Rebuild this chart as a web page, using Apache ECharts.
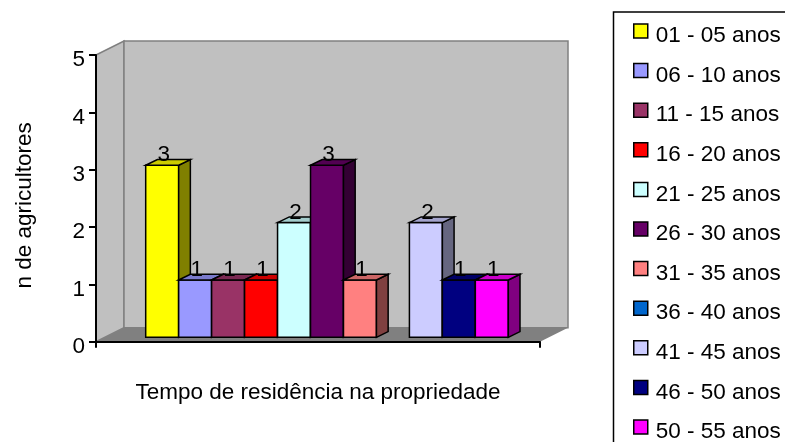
<!DOCTYPE html>
<html>
<head>
<meta charset="utf-8">
<script src="https://cdn.jsdelivr.net/npm/echarts@6/dist/echarts.min.js"></script>
<style>
  html, body { margin: 0; padding: 0; background: #ffffff; }
  #chart { width: 785px; height: 442px; }
</style>
</head>
<body>
<div id="chart"></div>
<script>
// Residence time classes (one bar each) and number of farmers per class
const categories = [''];
const seriesNames = [
  '01 - 05 anos', '06 - 10 anos', '11 - 15 anos', '16 - 20 anos',
  '21 - 25 anos', '26 - 30 anos', '31 - 35 anos', '36 - 40 anos',
  '41 - 45 anos', '46 - 50 anos', '50 - 55 anos'
];
const seriesValues = [3, 1, 1, 1, 2, 3, 1, null, 2, 1, 1];
const seriesColors = [
  '#FFFF00', '#9999FF', '#993366', '#FF0000', '#CCFFFF', '#660066',
  '#FF8080', '#0066CC', '#CCCCFF', '#000080', '#FF00FF'
];
const yMin = 0, yMax = 5, yStep = 1;

const FONT = '"Liberation Sans", Arial, sans-serif';
const FONT_SIZE = 22.5;

// pseudo-3D geometry (pixels)
const WALL_DX = 28, WALL_DY = 14;      // depth of the back wall
const FRONT_DX = 9, FRONT_DY = -4.4;   // bars sit a little behind the axis line
const BAR_DX = 11.7, BAR_DY = 5.7;     // depth of each bar
const GROUP_FRACTION = 0.8167;         // share of the category band taken by the bars

function shade(hex, k) {
  const n = parseInt(hex.slice(1), 16);
  const r = Math.round(((n >> 16) & 255) * k);
  const g = Math.round(((n >> 8) & 255) * k);
  const b = Math.round((n & 255) * k);
  return 'rgb(' + r + ',' + g + ',' + b + ')';
}

function wallRenderer(params, api) {
  const cs = params.coordSys;
  const L = cs.x, R = cs.x + cs.width, T = cs.y, B = cs.y + cs.height;
  const edge = { stroke: '#808080', lineWidth: 1.5 };
  return {
    type: 'group',
    children: [
      { type: 'polygon', shape: { points: [[L, T], [L + WALL_DX, T - WALL_DY], [L + WALL_DX, B - WALL_DY], [L, B]] },
        style: Object.assign({ fill: '#C0C0C0' }, edge) },
      { type: 'polygon', shape: { points: [[L + WALL_DX, T - WALL_DY], [R + WALL_DX, T - WALL_DY], [R + WALL_DX, B - WALL_DY], [L + WALL_DX, B - WALL_DY]] },
        style: Object.assign({ fill: '#C0C0C0' }, edge) },
      { type: 'polygon', shape: { points: [[L, B], [L + WALL_DX, B - WALL_DY], [R + WALL_DX, B - WALL_DY], [R, B]] },
        style: { fill: '#808080' } }
    ]
  };
}

function barRenderer(i) {
  return function (params, api) {
    const v = api.value(1);
    if (v == null || isNaN(v)) return null;
    const band = api.size([1, 0])[0];
    const groupW = band * GROUP_FRACTION;
    const barW = groupW / seriesNames.length;
    const base = api.coord([api.value(0), 0]);
    const top = api.coord([api.value(0), v]);
    const x0 = base[0] - groupW / 2 + i * barW + FRONT_DX;
    const x1 = x0 + barW;
    const yb = base[1] + FRONT_DY;
    const yt = top[1] + FRONT_DY;
    const color = seriesColors[i];
    const line = { stroke: '#000', lineWidth: 1.5, lineJoin: 'miter' };
    return {
      type: 'group',
      children: [
        { type: 'polygon', shape: { points: [[x0, yb], [x0, yt], [x1, yt], [x1, yb]] },
          style: Object.assign({ fill: color }, line) },
        { type: 'polygon', shape: { points: [[x1, yb], [x1 + BAR_DX, yb - BAR_DY], [x1 + BAR_DX, yt - BAR_DY], [x1, yt]] },
          style: Object.assign({ fill: shade(color, 0.5) }, line) },
        { type: 'polygon', shape: { points: [[x0, yt], [x0 + BAR_DX, yt - BAR_DY], [x1 + BAR_DX, yt - BAR_DY], [x1, yt]] },
          style: Object.assign({ fill: shade(color, 0.8) }, line) },
        { type: 'text', z2: 100,
          style: { text: String(v), x: (x0 + x1) / 2 + 1.5, y: yt - 10, align: 'center', verticalAlign: 'middle',
                   font: FONT_SIZE + 'px ' + FONT, fill: '#000' } }
      ]
    };
  };
}

const series = [{
  name: 'paredes',
  type: 'custom',
  z: 1,
  silent: true,
  renderItem: wallRenderer,
  data: [[0, 0]]
}];
seriesNames.forEach(function (name, i) {
  series.push({
    name: name,
    type: 'custom',
    z: 2,
    itemStyle: { color: seriesColors[i] },
    renderItem: barRenderer(i),
    data: [[0, seriesValues[i]]]
  });
});

const chart = echarts.init(document.getElementById('chart'), null, { renderer: 'canvas' });
chart.setOption({
  animation: false,
  backgroundColor: '#ffffff',
  textStyle: { fontFamily: FONT },
  grid: { left: 96, right: 245, top: 55, bottom: 100.3, containLabel: false, outerBoundsMode: 'none' },
  xAxis: {
    type: 'category',
    data: categories,
    z: 5,
    name: 'Tempo de residência na propriedade',
    nameLocation: 'middle',
    nameGap: 39.5,
    nameTextStyle: { fontSize: FONT_SIZE, color: '#000', fontFamily: FONT },
    axisLine: { lineStyle: { color: '#000', width: 2 } },
    axisTick: { show: true, length: 6, lineStyle: { color: '#000', width: 2 } },
    axisLabel: { show: false },
    splitLine: { show: false }
  },
  yAxis: {
    type: 'value',
    min: yMin, max: yMax, interval: yStep,
    z: 5,
    name: 'n de agricultores',
    nameLocation: 'middle',
    nameGap: 60,
    nameRotate: 90,
    nameTextStyle: { fontSize: FONT_SIZE, color: '#000', fontFamily: FONT, padding: [0, 14, 0, 0] },
    axisLine: { show: true, lineStyle: { color: '#000', width: 2 } },
    axisTick: { show: true, length: 7, lineStyle: { color: '#000', width: 2 } },
    axisLabel: {
      margin: 11,
      formatter: '{v|{value}}',
      rich: { v: { fontSize: FONT_SIZE, color: '#000', fontFamily: FONT, padding: [10, 0, 0, 0] } }
    },
    splitLine: { show: false }
  },
  legend: {
    data: seriesNames,
    orient: 'vertical',
    left: 633,
    top: 14.5,
    height: 440,
    padding: 0,
    icon: 'rect',
    itemWidth: 14,
    itemHeight: 14,
    itemGap: 6.6,
    selectedMode: false,
    itemStyle: { borderColor: '#000', borderWidth: 1.5 },
    formatter: function (name) { return '{t|' + name + '}'; },
    textStyle: {
      color: '#000',
      rich: { t: { fontSize: FONT_SIZE, lineHeight: 22, color: '#000', fontFamily: FONT, padding: [10, 0, 0, 3] } }
    }
  },
  graphic: [{
    type: 'rect',
    shape: { x: 613.5, y: 12, width: 200, height: 460 },
    style: { fill: 'none', stroke: '#000', lineWidth: 1.5 },
    silent: true
  }],
  series: series
});
</script>
</body>
</html>
